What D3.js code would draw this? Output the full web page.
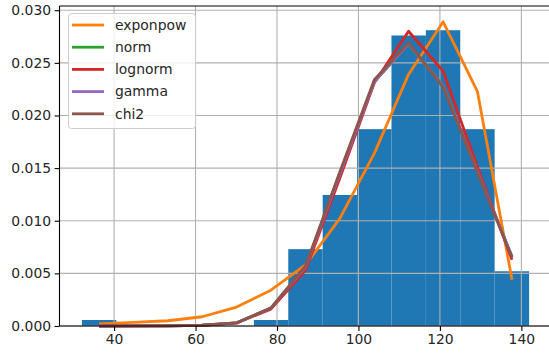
<!DOCTYPE html>
<html><head><meta charset="utf-8">
<script src="https://cdn.jsdelivr.net/npm/d3@7"></script>
<style>body{margin:0;background:#fff}svg{display:block}text{font-family:"DejaVu Sans",sans-serif}</style>
</head><body><svg id="c" width="549" height="356"></svg>
<script>
const binEdges = [32.1, 40.55, 48.99, 57.44, 65.88, 74.33, 82.77, 91.22, 99.66, 108.11, 116.55, 125.0, 133.44, 141.9];
const binDensity = [0.00057, 0, 0, 0, 0, 0.00057, 0.0073, 0.01245, 0.0187, 0.0276, 0.0281, 0.0187, 0.0052];
const xCenters = [36.3, 44.7, 53.2, 61.6, 70.1, 78.5, 87.0, 95.4, 103.9, 112.3, 120.8, 129.2, 137.7];
const seriesNames = ["exponpow", "norm", "lognorm", "gamma", "chi2"];
const exponpow = [0.0002, 0.00035, 0.0005, 0.00088, 0.0018, 0.0034, 0.0058, 0.0102, 0.0164, 0.0239, 0.0289, 0.0223, 0.0044];
const norm     = [0.0, 0.00001, 0.00002, 0.00007, 0.0003, 0.0017, 0.0056, 0.0145, 0.0232, 0.0268, 0.0228, 0.0147, 0.0066];
const lognorm  = [0.0, 0.0, 0.00002, 0.00005, 0.0003, 0.0016, 0.0053, 0.0140, 0.0231, 0.0280, 0.0242, 0.0151, 0.0063];
const gamma    = [0.0, 0.00001, 0.00002, 0.00007, 0.0003, 0.0017, 0.0056, 0.0144, 0.0232, 0.0268, 0.0228, 0.0147, 0.0066];
const chi2     = [0.0, 0.00001, 0.00002, 0.00007, 0.0003, 0.0017, 0.0057, 0.0146, 0.0234, 0.0269, 0.0227, 0.0146, 0.0065];
const xTicks = [40, 60, 80, 100, 120, 140];
const yTicks = [0, 0.005, 0.010, 0.015, 0.020, 0.025, 0.030];
const colors = ["#ff7f0e", "#2ca02c", "#d62728", "#9467bd", "#8c564b"];
const seriesData = [exponpow, norm, lognorm, gamma, chi2];

const svg = d3.select("#c");
const L = 59.5, R = 551.5, T = 6, B = 326;
const x = d3.scaleLinear().domain([26.6, 147.4]).range([L, R]);
const y = d3.scaleLinear().domain([0, 0.0304]).range([B, T]);

// bars
svg.append("g").selectAll("rect").data(binDensity).join("rect")
  .attr("x", (d,i) => x(binEdges[i]))
  .attr("width", (d,i) => x(binEdges[i+1]) - x(binEdges[i]))
  .attr("y", d => y(d))
  .attr("height", d => y(0) - y(d))
  .attr("fill", "#1f77b4");

// grid
const grid = svg.append("g").attr("stroke", "#b0b0b0").attr("stroke-width", 1.1);
xTicks.forEach(t => grid.append("line").attr("x1", x(t)).attr("x2", x(t)).attr("y1", T).attr("y2", B));
yTicks.forEach(t => grid.append("line").attr("x1", L).attr("x2", R).attr("y1", y(t)).attr("y2", y(t)));

// lines
const line = d3.line().x((d,i) => x(xCenters[i])).y(d => y(d));
seriesData.forEach((s, k) => {
  svg.append("path").datum(s).attr("d", line).attr("fill", "none")
    .attr("stroke", colors[k]).attr("stroke-width", 2.8).attr("stroke-linejoin", "round");
});

// axes
const xAxis = d3.axisBottom(x).tickValues(xTicks).tickSize(4.9).tickPadding(3.5).tickFormat(d3.format("d"));
const yAxis = d3.axisLeft(y).tickValues(yTicks).tickSize(4.9).tickPadding(3.5).tickFormat(d3.format(".3f"));
const gx = svg.append("g").attr("transform", `translate(0,${B})`).call(xAxis);
const gy = svg.append("g").attr("transform", `translate(${L},0)`).call(yAxis);
[gx, gy].forEach(g => {
  g.select(".domain").remove();
  g.selectAll("line").attr("stroke", "#000").attr("stroke-width", 1.1);
  g.selectAll("text").attr("font-size", 13.9).attr("fill", "#262626").style("font-family", "DejaVu Sans");
});
// spines
const sp = svg.append("g").attr("stroke", "#000").attr("stroke-width", 1.1);
sp.append("line").attr("x1", L).attr("x2", L).attr("y1", T).attr("y2", B);
sp.append("line").attr("x1", L).attr("x2", R).attr("y1", B).attr("y2", B);
sp.append("line").attr("x1", L).attr("x2", R).attr("y1", T).attr("y2", T);
sp.append("line").attr("x1", R).attr("x2", R).attr("y1", T).attr("y2", B);

// legend
const lg = svg.append("g");
lg.append("rect").attr("x", 68.5).attr("y", 13.5).attr("width", 127).attr("height", 115).attr("rx", 3)
  .attr("fill", "#fff").attr("fill-opacity", 0.8).attr("stroke", "#cccccc").attr("stroke-width", 1);
seriesNames.forEach((n, k) => {
  const yy = 25 + k * 22.2;
  lg.append("line").attr("x1", 72).attr("x2", 104).attr("y1", yy).attr("y2", yy)
    .attr("stroke", colors[k]).attr("stroke-width", 2.8);
  lg.append("text").attr("x", 115).attr("y", yy).attr("dy", "0.35em").attr("font-size", 13.9)
    .attr("fill", "#262626").text(n);
});
</script></body></html>
